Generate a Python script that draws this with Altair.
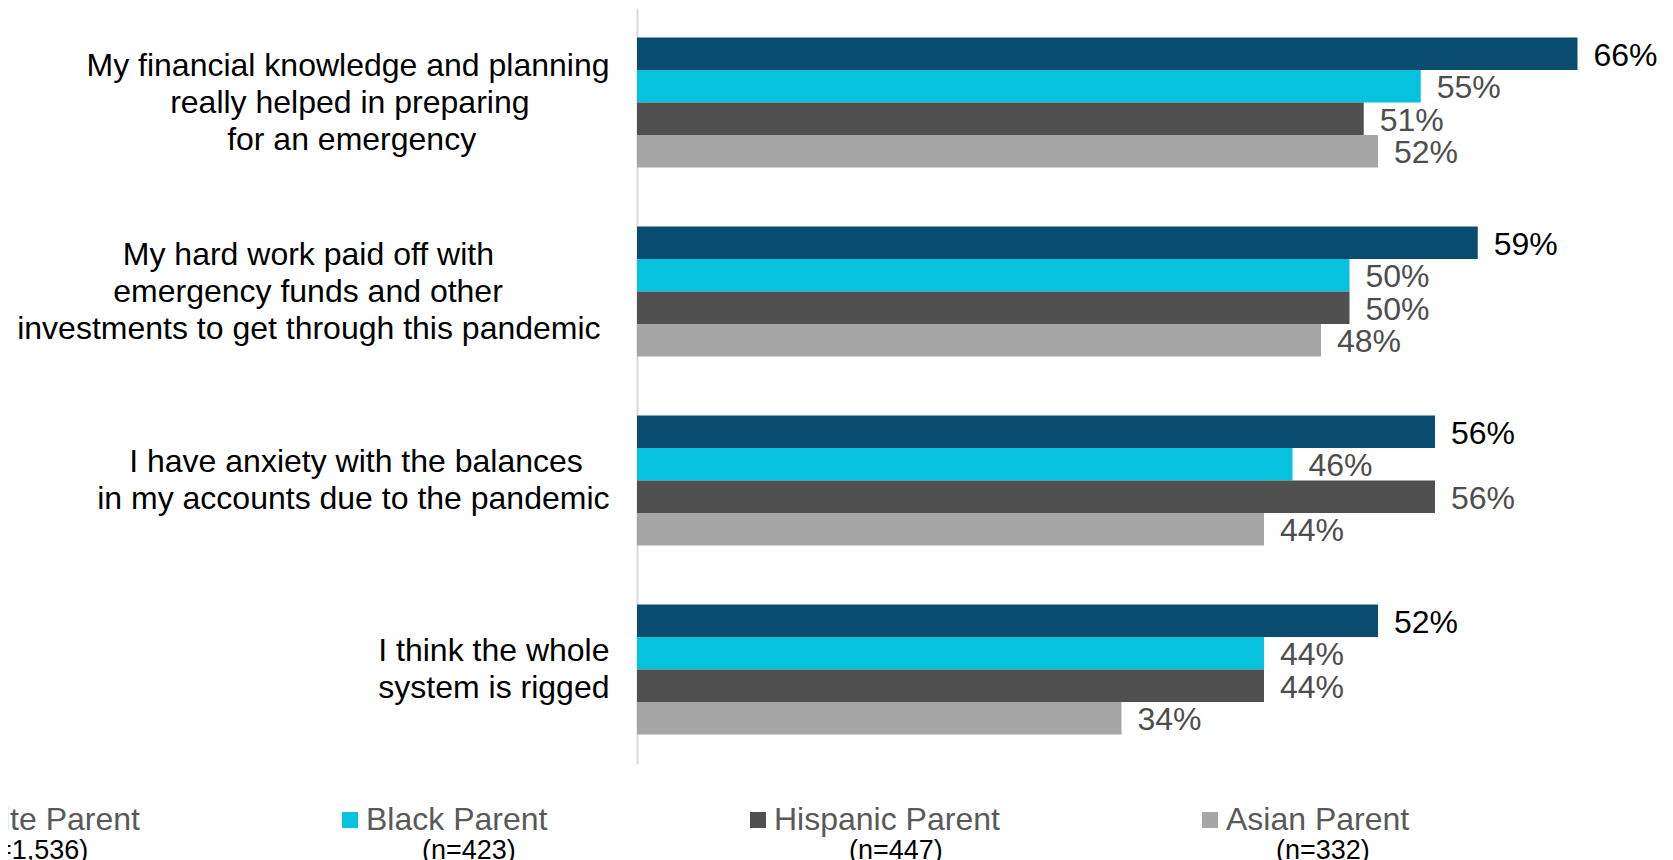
import json
import altair as alt
import pandas as pd

FONT = "Liberation Sans"

categories = [
    "My financial knowledge and planning\nreally helped in preparing\nfor an emergency",
    "My hard work paid off with\nemergency funds and other\ninvestments to get through this pandemic",
    "I have anxiety with the balances\nin my accounts due to the pandemic",
    "I think the whole\nsystem is rigged",
]
groups = ["White Parent", "Black Parent", "Hispanic Parent", "Asian Parent"]
sample_sizes = ["(n=1,536)", "(n=423)", "(n=447)", "(n=332)"]

white = [66, 59, 56, 52]
black = [55, 50, 46, 44]
hispanic = [51, 50, 56, 44]
asian = [52, 48, 44, 34]

colors = ["#0A4C6F", "#06C2DE", "#505050", "#A6A6A6"]

# styling only: trailing non-breaking spaces to centre lines inside right-aligned label blocks
line_pad = {
    "really helped in preparing": 9,
    "for an emergency": 15,
    "My hard work paid off with": 13,
    "emergency funds and other": 12,
    "investments to get through this pandemic": 1,
    "I have anxiety with the balances": 3,
}

series = [white, black, hispanic, asian]
rows = []
for ci, c in enumerate(categories):
    for gi, g in enumerate(groups):
        rows.append({"category": c, "group": g, "value": series[gi][ci], "n": sample_sizes[gi]})
df = pd.DataFrame(rows)


def pad_line(ln):
    k = line_pad.get(ln, 0)
    return ln + ("\u00a0" * k + "\u200b" if k else "")


expr = "datum.value"
for c in reversed(categories):
    lines = [pad_line(ln) for ln in c.split("\n")]
    expr = f"datum.value == {json.dumps(c, ensure_ascii=False)} ? {json.dumps(lines, ensure_ascii=False)} : ({expr})"

LINE_H = 37
three_line = " || ".join(
    f"datum.value == {json.dumps(c, ensure_ascii=False)}" for c in categories if c.count("\n") == 2
)
label_offset = {"condition": {"test": three_line, "value": -LINE_H}, "value": -LINE_H / 2}

base = alt.Chart(df).encode(
    y=alt.Y(
        "category:N",
        sort=categories,
        scale=alt.Scale(domain=categories, paddingInner=0.312, paddingOuter=0.156),
        axis=alt.Axis(
            title=None, domain=True, domainColor="#D9D9D9", domainWidth=2, ticks=False,
            labelFontSize=32, labelFont=FONT, labelColor="#000000", labelAlign="right",
            labelBaseline="middle", labelPadding=28, labelLineHeight=LINE_H, labelLimit=0,
            labelExpr=expr, labelOffset=label_offset,
        ),
    ),
    yOffset=alt.YOffset("group:N", sort=groups,
                        scale=alt.Scale(domain=groups, paddingInner=0, paddingOuter=0)),
    x=alt.X("value:Q", scale=alt.Scale(domain=[0, 72], nice=False, zero=True), axis=None),
)

bars = base.mark_bar().encode(
    color=alt.Color(
        "group:N",
        scale=alt.Scale(domain=groups, range=colors),
        legend=alt.Legend(
            title=None, orient="none", legendX=-714, legendY=796, direction="horizontal",
            columns=4, symbolType="square", symbolSize=256, symbolStrokeWidth=0,
            labelFontSize=32, labelFont=FONT, labelColor="#595959", labelOffset=0,
            columnPadding=194, labelLimit=0,
        ),
    )
)

labels = base.mark_text(align="left", baseline="middle", dx=16, dy=2, fontSize=32, font=FONT).encode(
    text="label:N",
    color=alt.condition(alt.datum.group == "White Parent", alt.value("#000000"), alt.value("#4D4D4D")),
).transform_calculate(label="datum.value + '%'")

ns = base.mark_point(opacity=0).encode(
    shape=alt.Shape(
        "n:N",
        scale=alt.Scale(domain=sample_sizes),
        legend=alt.Legend(
            title=None, orient="none", legendX=-692, legendY=829, direction="horizontal",
            columns=4, symbolSize=0, symbolOpacity=0, symbolStrokeWidth=0,
            labelFontSize=27, labelFont=FONT, labelColor="#000000", labelOffset=0,
            columnPadding=306, labelLimit=0,
        ),
    )
)

chart = alt.layer(bars, labels, ns).properties(
    width=1026,
    height=756,
    padding={"left": 629, "top": 0, "right": 0, "bottom": 96},
    autosize=alt.AutoSizeParams(type="none"),
).configure(font=FONT).configure_view(stroke=None)

chart.save("out.html", embed_options={"renderer": "svg", "actions": False})
